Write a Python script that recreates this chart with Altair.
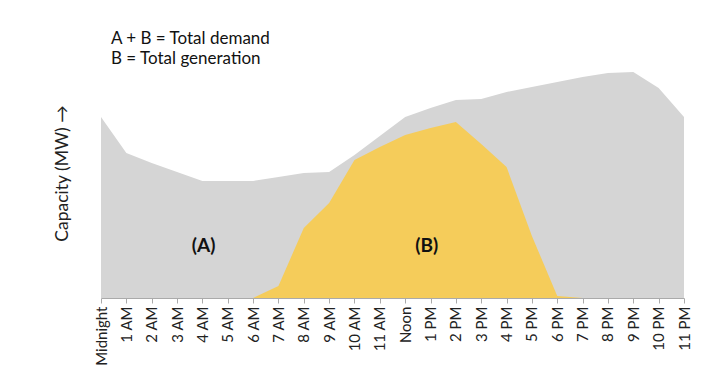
import altair as alt
import pandas as pd

hours = list(range(24))
hour_labels = ["Midnight", "1 AM", "2 AM", "3 AM", "4 AM", "5 AM", "6 AM", "7 AM",
               "8 AM", "9 AM", "10 AM", "11 AM", "Noon", "1 PM", "2 PM", "3 PM",
               "4 PM", "5 PM", "6 PM", "7 PM", "8 PM", "9 PM", "10 PM", "11 PM"]
demand = [181, 145, 135, 126, 117, 117, 117, 121, 125, 126, 143, 162,
          181, 190, 198, 199, 206, 211, 216, 221, 225, 226, 210, 181]
generation = [0, 0, 0, 0, 0, 0, 0, 12, 70, 95, 138, 151,
              163, 170, 176, 154, 131, 62, 2, 0, 0, 0, 0, 0]

label_text = ["(A)", "(B)"]
label_hour = [4.05, 12.85]
label_val = [52, 52]

df = pd.DataFrame({"hour": hours, "demand": demand, "generation": generation})
lab = pd.DataFrame({"t": label_text, "hour": label_hour, "v": label_val})

FONT = "Lato"
label_expr = "[" + ",".join(f"'{l}'" for l in hour_labels) + "][datum.value]"

xaxis = alt.Axis(values=hours, labelExpr=label_expr, labelAngle=-90,
                 labelAlign="right", labelBaseline="middle",
                 labelOverlap=False, tickCount=24,
                 labelFont=FONT, labelFontSize=15, labelColor="#222",
                 labelPadding=3, tickSize=5, tickColor="#aaa",
                 domainColor="#aaa", grid=False, title=None)
xscale = alt.Scale(domain=[0, 23], nice=False, zero=False)
yscale = alt.Scale(domain=[0, 240], nice=False)
yaxis = alt.Axis(domain=False, ticks=False, labels=False, grid=False,
                 title="Capacity (MW) \u2192", titleFont=FONT,
                 titleFontSize=17.5, titleFontWeight="normal",
                 titleColor="#222", titlePadding=30, titleY=115,
                 titleAlign="center")

demand_area = alt.Chart(df).mark_area(color="#d5d5d5", interpolate="linear").encode(
    x=alt.X("hour:Q", scale=xscale, axis=xaxis),
    y=alt.Y("demand:Q", scale=yscale, axis=yaxis),
)
gen_area = alt.Chart(df).mark_area(color="#F5CC5A", interpolate="linear").encode(
    x=alt.X("hour:Q", scale=xscale, axis=xaxis),
    y=alt.Y("generation:Q", scale=yscale, axis=yaxis),
)
labels = alt.Chart(lab).mark_text(font=FONT, fontSize=19, fontWeight="bold",
                                  color="#111").encode(
    x=alt.X("hour:Q", scale=xscale, axis=xaxis),
    y=alt.Y("v:Q", scale=yscale, axis=yaxis),
    text="t:N",
)

chart = alt.layer(demand_area, gen_area, labels).properties(
    width=583, height=240,
    title=alt.TitleParams(["A + B = Total demand", "B = Total generation"],
                          anchor="start", frame="group", dx=10, font=FONT,
                          fontSize=17, fontWeight="normal", color="#111",
                          lineHeight=20, offset=-10),
    autosize=alt.AutoSizeParams(type="none"),
    padding={"left": 93, "top": 50, "right": 20, "bottom": 70},
).configure_view(stroke=None)

chart.save("out.html", embed_options={"renderer": "svg", "actions": False})
